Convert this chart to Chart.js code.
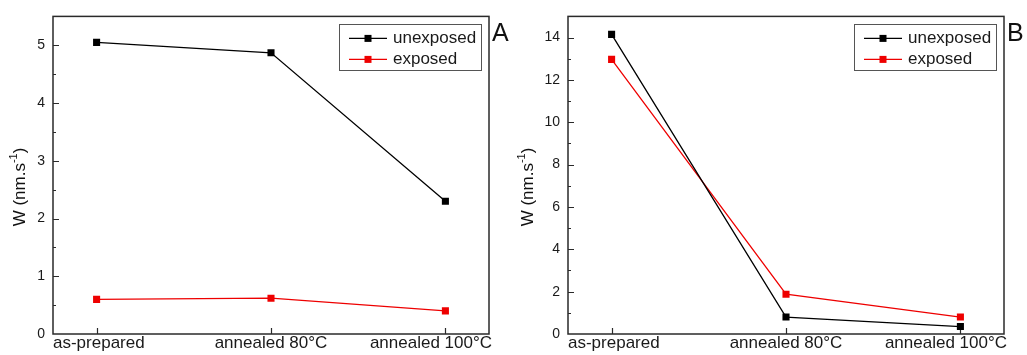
<!DOCTYPE html>
<html>
<head>
<meta charset="utf-8">
<script src="https://cdn.jsdelivr.net/npm/chart.js@4"></script>
<style>
  html, body { margin: 0; padding: 0; background: #fff; }
  #wrap { position: relative; width: 1027px; height: 355px; }
  canvas { position: absolute; top: 0; }
  #chartA { left: 0; }
  #chartB { left: 513px; }
</style>
</head>
<body>
<div id="wrap">
  <canvas id="chartA" width="513" height="355"></canvas>
  <canvas id="chartB" width="514" height="355"></canvas>
</div>
<script>
/* categories */
var categories = ['as-prepared', 'annealed 80°C', 'annealed 100°C'];
/* panel A */
var unexposedA = [5.05, 4.87, 2.30];
var exposedA = [0.60, 0.62, 0.40];
var yMaxA = 5.5, yStepA = 0.5, yLabelStepA = 1;
/* panel B */
var unexposedB = [14.15, 0.80, 0.35];
var exposedB = [12.97, 1.88, 0.80];
var yMaxB = 15, yStepB = 1, yLabelStepB = 2;

var FONT = "'Liberation Sans', Arial, sans-serif";
var BLACK = '#000000';
var RED = '#ee0000';

function toPoints(arr) {
  return arr.map(function (v, i) { return { x: i, y: v }; });
}

function isLabelled(v, step) {
  return Math.abs(v / step - Math.round(v / step)) < 1e-6;
}

/* frame, inner ticks, x labels, legend, panel letter, y title */
var panelPlugin = {
  id: 'panel',
  beforeDatasetsDraw: function (chart, args, opts) {
    var ctx = chart.ctx, a = chart.chartArea;
    var xs = chart.scales.x, ys = chart.scales.y;
    ctx.save();
    ctx.strokeStyle = '#2a2a2a';
    ctx.lineWidth = 1.5;
    ctx.strokeRect(a.left, a.top, a.right - a.left, a.bottom - a.top);
    ctx.lineWidth = 1.2;
    ctx.beginPath();
    ys.ticks.forEach(function (t) {
      if (t.value <= ys.min || t.value >= ys.max) return;
      var py = Math.round(ys.getPixelForValue(t.value)) + 0.5;
      var len = isLabelled(t.value, opts.labelStep) ? 6 : 3;
      ctx.moveTo(a.left, py);
      ctx.lineTo(a.left + len, py);
    });
    xs.ticks.forEach(function (t) {
      var px = Math.round(xs.getPixelForValue(t.value)) + 0.5;
      ctx.moveTo(px, a.bottom);
      ctx.lineTo(px, a.bottom - 6);
    });
    ctx.stroke();
    ctx.restore();
  },
  afterDraw: function (chart, args, opts) {
    var ctx = chart.ctx, a = chart.chartArea;
    var xs = chart.scales.x;
    ctx.save();

    /* x category labels */
    ctx.fillStyle = '#1a1a1a';
    ctx.font = '17px ' + FONT;
    ctx.textBaseline = 'top';
    ctx.textAlign = 'left';
    xs.ticks.forEach(function (t) {
      var txt = categories[t.value];
      var w = ctx.measureText(txt).width;
      var px = xs.getPixelForValue(t.value);
      var left = px - w / 2;
      if (left + w > a.right + 3) left = a.right + 3 - w;
      if (left < a.left) left = a.left;
      ctx.fillText(txt, left, a.bottom + 1);
    });

    /* legend */
    var bw = 142, bh = 46;
    var bx = a.right - 8 - bw, by = a.top + 8;
    ctx.strokeStyle = '#555';
    ctx.lineWidth = 1;
    ctx.strokeRect(Math.round(bx) + 0.5, Math.round(by) + 0.5, bw, bh);
    chart.data.datasets.forEach(function (ds, i) {
      var ry = by + 14 + i * 21;
      ctx.strokeStyle = ds.borderColor;
      ctx.lineWidth = 1.3;
      ctx.beginPath();
      ctx.moveTo(bx + 10, ry);
      ctx.lineTo(bx + 48, ry);
      ctx.stroke();
      ctx.fillStyle = ds.backgroundColor;
      ctx.fillRect(bx + 29 - 3.5, ry - 3.5, 7, 7);
      ctx.fillStyle = '#1a1a1a';
      ctx.font = '17px ' + FONT;
      ctx.textBaseline = 'middle';
      ctx.fillText(ds.label, bx + 54, ry);
    });

    /* panel letter */
    ctx.fillStyle = '#111';
    ctx.font = '25px ' + FONT;
    ctx.textBaseline = 'top';
    ctx.textAlign = 'left';
    ctx.fillText(opts.letter, a.right + 3, a.top + 5);

    /* y title with superscript */
    ctx.translate(opts.titleX, 187);
    ctx.rotate(-Math.PI / 2);
    ctx.textBaseline = 'middle';
    ctx.font = '17px ' + FONT;
    var p1 = 'W (nm.s', p3 = ')', sup = '-1';
    var w1 = ctx.measureText(p1).width, w3 = ctx.measureText(p3).width;
    ctx.font = '11px ' + FONT;
    var w2 = ctx.measureText(sup).width;
    var total = w1 + w2 + w3;
    var x0 = -total / 2;
    ctx.font = '17px ' + FONT;
    ctx.fillText(p1, x0, 0);
    ctx.font = '11px ' + FONT;
    ctx.fillText(sup, x0 + w1, -6);
    ctx.font = '17px ' + FONT;
    ctx.fillText(p3, x0 + w1 + w2, 0);
    ctx.restore();
  }
};

function createChart(id, unexposed, exposed, yMax, yStep, labelStep, letter, titleX, yWidth, rightPad) {
  var ctx = document.getElementById(id).getContext('2d');
  return new Chart(ctx, {
    type: 'line',
    data: {
      datasets: [{
        label: 'unexposed',
        data: toPoints(unexposed),
        borderColor: BLACK,
        backgroundColor: BLACK,
        borderWidth: 1.3,
        pointStyle: 'rect',
        pointRadius: 5,
        pointBorderWidth: 0,
        tension: 0
      }, {
        label: 'exposed',
        data: toPoints(exposed),
        borderColor: RED,
        backgroundColor: RED,
        borderWidth: 1.3,
        pointStyle: 'rect',
        pointRadius: 5,
        pointBorderWidth: 0,
        tension: 0
      }]
    },
    options: {
      responsive: false,
      animation: false,
      devicePixelRatio: 1,
      layout: { padding: { top: 10, right: rightPad, left: 0, bottom: 0 } },
      plugins: {
        legend: { display: false },
        tooltip: { enabled: false },
        panel: { letter: letter, titleX: titleX, labelStep: labelStep }
      },
      scales: {
        x: {
          type: 'linear',
          min: -0.25,
          max: 2.25,
          grid: { display: false, drawTicks: false },
          border: { display: false },
          ticks: { display: false },
          afterBuildTicks: function (s) {
            s.ticks = categories.map(function (c, i) { return { value: i }; });
          },
          afterFit: function (s) { s.height = 21; }
        },
        y: {
          min: 0,
          max: yMax,
          grid: { display: false, drawTicks: false },
          border: { display: false },
          ticks: {
            stepSize: yStep,
            padding: 8,
            color: '#1a1a1a',
            font: { family: FONT, size: 14 },
            callback: function (v) {
              if (v >= yMax) return '';
              return isLabelled(v, labelStep) ? String(Math.round(v)) : '';
            }
          },
          afterFit: function (s) { s.width = yWidth; }
        }
      }
    },
    plugins: [panelPlugin]
  });
}

createChart('chartA', unexposedA, exposedA, yMaxA, yStepA, yLabelStepA, 'A', 20, 53, 24);
createChart('chartB', unexposedB, exposedB, yMaxB, yStepB, yLabelStepB, 'B', 15, 55, 23);
</script>
</body>
</html>
